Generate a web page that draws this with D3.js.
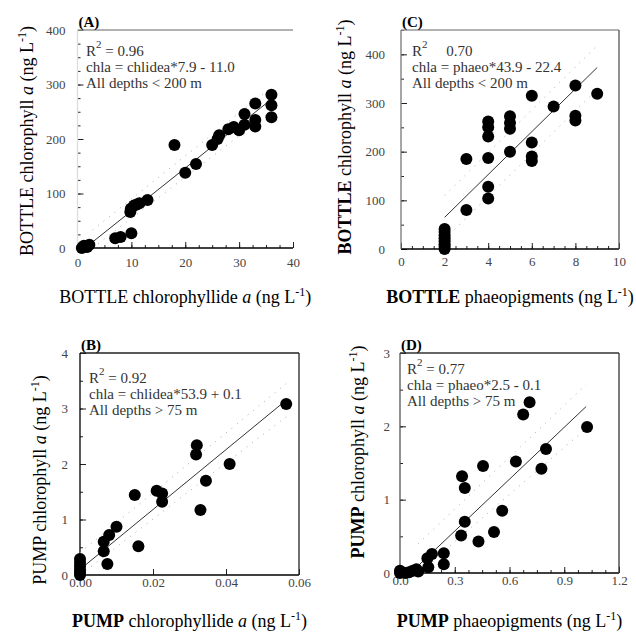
<!DOCTYPE html>
<html>
<head>
<meta charset="utf-8">
<script src="https://cdn.jsdelivr.net/npm/d3@7"></script>
<style>
  body { margin: 0; background: #fff; }
  svg text { font-family: "Liberation Serif", "DejaVu Serif", serif; }
</style>
</head>
<body>
<div id="chart"></div>
<script>
'use strict';

// (A) bottle chlorophyllide vs chlorophyll
var bottleChlideX = [0.8, 1.2, 1.8, 2.2, 7, 8, 10, 9.8, 9.9, 10.5, 11, 11.5, 13, 18, 20, 22, 25, 26, 26.3, 28, 29, 30, 31, 31, 33, 33, 33, 36, 36, 36];
var bottleChlaA   = [0, 4, 2, 6, 18, 20, 27, 66, 72, 78, 80, 82, 88, 189, 138, 154, 189, 200, 207, 218, 222, 216, 226, 246, 265, 235, 223, 281, 262, 240];

// (C) bottle phaeopigments vs chlorophyll
var bottlePhaeoX = [2, 2, 2, 2, 2, 2, 2, 2, 3, 3, 4, 4, 4, 4, 4, 4, 5, 5, 5, 5, 6, 6, 6, 6, 7, 8, 8, 8, 9];
var bottleChlaC  = [0, 5, 10, 16, 22, 28, 35, 41, 185, 80, 262, 250, 231, 187, 128, 104, 273, 259, 247, 200, 315, 219, 190, 181, 293, 336, 274, 264, 319];

// (B) pump chlorophyllide vs chlorophyll
var pumpChlideX = [0, 0, 0, 0, 0, 0, 0.0065, 0.0065, 0.008, 0.0075, 0.010, 0.015, 0.016, 0.021, 0.0225, 0.0225, 0.0318, 0.032, 0.0345, 0.033, 0.041, 0.0565];
var pumpChlaB   = [0, 0.05, 0.1, 0.16, 0.22, 0.29, 0.6, 0.43, 0.72, 0.2, 0.87, 1.44, 0.52, 1.52, 1.47, 1.32, 2.17, 2.34, 1.7, 1.17, 2.0, 3.08];

// (D) pump phaeopigments vs chlorophyll
var pumpPhaeoX = [0, 0, 0.03, 0.05, 0.07, 0.09, 0.1, 0.155, 0.15, 0.175, 0.24, 0.24, 0.34, 0.355, 0.355, 0.335, 0.43, 0.455, 0.515, 0.56, 0.635, 0.675, 0.71, 0.775, 0.8, 1.025];
var pumpChlaD  = [0.03, 0, 0, 0.01, 0.03, 0.05, 0.02, 0.08, 0.2, 0.26, 0.27, 0.12, 1.32, 1.16, 0.70, 0.51, 0.43, 1.46, 0.56, 0.85, 1.52, 2.16, 2.33, 1.42, 1.69, 1.99];

// regression lines [x0, y0, x1, y1] and half width of dotted band
var fitA = [2.8, 11, 36, 273], bandA = 22;
var fitC = [2, 65, 9, 373], bandC = 45;
var fitB = [0, 0.1, 0.0565, 3.15], bandB = 0.3;
var fitD = [0.1, 0.1, 1.02, 2.27], bandD = 0.3;

var notesA = ["= 0.96", "chla = chlidea*7.9 - 11.0", "All depths < 200 m"];
var notesC = ["\u00a0\u00a0\u00a0\u00a00.70", "chla = phaeo*43.9 - 22.4", "All depths < 200 m"];
var notesB = ["= 0.92", "chla = chlidea*53.9 + 0.1", "All depths > 75 m"];
var notesD = ["= 0.77", "chla = phaeo*2.5 - 0.1", "All depths > 75 m"];

var svg = d3.select("#chart").append("svg")
    .attr("width", 636)
    .attr("height", 638);

var panels = [
    { tag: "(A)", xs: bottleChlideX, ys: bottleChlaA, fit: fitA, band: bandA, notes: notesA,
      px: [77.5, 293], py: [248, 30], xd: [0, 40], yd: [0, 400],
      xt: d3.range(0, 41, 10), xm: d3.range(0, 40.1, 2.5), yt: d3.range(0, 401, 100), ym: d3.range(0, 400.1, 25),
      xf: d3.format("d"), yf: d3.format("d"), xpad: 10, ypad: 12,
      frame: { top: "#999", bottom: "#000", left: "#ddd", right: null },
      noteX: 86, noteY: 56,
      xTitle: ["BOTTLE", " chlorophyllide ", "a"], xBold: false, xTitleY: 297,
      yTitle: ["BOTTLE", " chlorophyll ", "a"], yBold: false, yTitleX: 27, yTitleY: 141 },
    { tag: "(C)", xs: bottlePhaeoX, ys: bottleChlaC, fit: fitC, band: bandC, notes: notesC,
      px: [401, 619], py: [249, 30], xd: [0, 10], yd: [0, 450],
      xt: d3.range(0, 11, 2), xm: d3.range(0, 10.1, 0.5), yt: d3.range(0, 401, 100), ym: d3.range(0, 450.1, 50),
      xf: d3.format("d"), yf: d3.format("d"), xpad: 8, ypad: 16,
      frame: { top: "#999", bottom: "#000", left: "#777", right: "#555" },
      noteX: 412, noteY: 56,
      xTitle: ["BOTTLE", " phaeopigments ", ""], xBold: true, xTitleY: 297,
      yTitle: ["BOTTLE", " chlorophyll ", "a"], yBold: true, yTitleX: 345, yTitleY: 137 },
    { tag: "(B)", xs: pumpChlideX, ys: pumpChlaB, fit: fitB, band: bandB, notes: notesB,
      px: [80, 299], py: [575, 353], xd: [0, 0.06], yd: [0, 4],
      xt: [0, 0.02, 0.04, 0.06], xm: [], yt: d3.range(0, 4.1, 1), ym: d3.range(0, 4.01, 0.5),
      xf: d3.format(".2f"), yf: d3.format("d"), xpad: 3, ypad: 12,
      frame: { top: "#222", bottom: "#000", left: "#000", right: "#222" },
      noteX: 89, noteY: 383,
      xTitle: ["PUMP", " chlorophyllide ", "a"], xBold: true, xTitleY: 621,
      yTitle: ["PUMP", " chlorophyll ", "a"], yBold: false, yTitleX: 40, yTitleY: 480 },
    { tag: "(D)", xs: pumpPhaeoX, ys: pumpChlaD, fit: fitD, band: bandD, notes: notesD,
      px: [400, 619], py: [573, 353], xd: [0, 1.2], yd: [0, 3],
      xt: [0, 0.3, 0.6, 0.9, 1.2], xm: d3.range(0, 1.21, 0.075), yt: d3.range(0, 3.1, 1), ym: d3.range(0, 3.01, 0.5),
      xf: d3.format(".1f"), yf: d3.format("d"), xpad: 3, ypad: 10,
      frame: { top: "#333", bottom: "#000", left: "#555", right: "#333" },
      noteX: 407, noteY: 374,
      xTitle: ["PUMP", " phaeopigments ", ""], xBold: true, xTitleY: 621,
      yTitle: ["PUMP", " chlorophyll ", "a"], yBold: true, yTitleX: 358, yTitleY: 452 }
];

panels.forEach(drawPanel);

function drawPanel(p) {
    var x = d3.scaleLinear().domain(p.xd).range(p.px);
    var y = d3.scaleLinear().domain(p.yd).range(p.py);
    var g = svg.append("g");

    // minor ticks
    g.append("g")
        .attr("transform", "translate(0," + p.py[0] + ")")
        .call(d3.axisBottom(x).tickValues(p.xm).tickSize(-3).tickSizeOuter(0).tickFormat(""))
        .call(a => a.select(".domain").remove());
    g.append("g")
        .attr("transform", "translate(" + p.px[0] + ",0)")
        .call(d3.axisLeft(y).tickValues(p.ym).tickSize(-3).tickSizeOuter(0).tickFormat(""))
        .call(a => a.select(".domain").remove());

    // major ticks
    var xa = g.append("g")
        .attr("transform", "translate(0," + p.py[0] + ")")
        .call(d3.axisBottom(x).tickValues(p.xt).tickSize(-6).tickSizeOuter(0).tickPadding(p.xpad).tickFormat(p.xf));
    xa.select(".domain").remove();
    var ya = g.append("g")
        .attr("transform", "translate(" + p.px[0] + ",0)")
        .call(d3.axisLeft(y).tickValues(p.yt).tickSize(-6).tickSizeOuter(0).tickPadding(p.ypad).tickFormat(p.yf));
    ya.select(".domain").remove();
    xa.attr("font-family", "Liberation Serif");
    ya.attr("font-family", "Liberation Serif");
    g.selectAll(".tick text")
        .style("font-family", "'Liberation Serif', serif")
        .style("font-size", "13px")
        .attr("fill", "#444");
    g.selectAll(".tick line").attr("stroke", "#222");

    // frame
    var f = p.frame;
    var sides = [
        [f.top, p.px[0], p.py[1], p.px[1], p.py[1]],
        [f.bottom, p.px[0], p.py[0], p.px[1], p.py[0]],
        [f.left, p.px[0], p.py[0], p.px[0], p.py[1]],
        [f.right, p.px[1], p.py[0], p.px[1], p.py[1]]
    ];
    sides.forEach(function(s) {
        if (!s[0]) return;
        g.append("line")
            .attr("x1", s[1]).attr("y1", s[2]).attr("x2", s[3]).attr("y2", s[4])
            .attr("stroke", s[0]).attr("stroke-width", 1.3);
    });

    // dotted band and fit line
    [-p.band, p.band].forEach(function(o) {
        g.append("line")
            .attr("x1", x(p.fit[0])).attr("y1", y(Math.max(p.fit[1] + o, p.yd[0])))
            .attr("x2", x(p.fit[2])).attr("y2", y(p.fit[3] + o))
            .attr("stroke", "#aaa").attr("stroke-width", 1)
            .attr("stroke-dasharray", "1,6");
    });
    g.append("line")
        .attr("x1", x(p.fit[0])).attr("y1", y(p.fit[1]))
        .attr("x2", x(p.fit[2])).attr("y2", y(p.fit[3]))
        .attr("stroke", "#333").attr("stroke-width", 1);

    // points
    g.selectAll("circle")
        .data(p.xs.map((v, i) => [v, p.ys[i]]))
        .join("circle")
        .attr("cx", d => x(d[0]))
        .attr("cy", d => y(d[1]))
        .attr("r", 6)
        .attr("fill", "#000");

    // panel tag
    g.append("text")
        .attr("x", p.px[0] + 1).attr("y", p.py[1] - 3)
        .attr("font-size", 15).attr("font-weight", "bold")
        .text(p.tag);

    // notes
    var r2 = g.append("text").attr("x", p.noteX).attr("y", p.noteY).attr("font-size", 15).attr("fill", "#333");
    r2.append("tspan").text("R");
    r2.append("tspan").attr("dy", -8).attr("font-size", 11).text("2");
    r2.append("tspan").attr("dy", 8).text("\u00a0" + p.notes[0]);
    p.notes.slice(1).forEach(function(t, i) {
        g.append("text")
            .attr("x", p.noteX).attr("y", p.noteY + 16 * (i + 1))
            .attr("font-size", 15).attr("fill", "#333")
            .text(t);
    });

    // axis titles
    var xt = g.append("text")
        .attr("x", (p.px[0] + p.px[1]) / 2).attr("y", p.xTitleY + 6)
        .attr("text-anchor", "middle").attr("font-size", 18);
    titleSpans(xt, p.xTitle, p.xBold);

    var yt = g.append("text")
        .attr("transform", "translate(" + (p.yTitleX + 6) + "," + p.yTitleY + ") rotate(-90)")
        .attr("text-anchor", "middle").attr("font-size", 18);
    titleSpans(yt, p.yTitle, p.yBold);
}

function titleSpans(t, parts, bold) {
    t.append("tspan").attr("font-weight", bold ? "bold" : "normal").text(parts[0]);
    t.append("tspan").text(parts[1]);
    if (parts[2]) t.append("tspan").attr("font-style", "italic").text(parts[2] + " ");
    t.append("tspan").text("(ng L");
    t.append("tspan").attr("dy", -7).attr("font-size", 12).text("-1");
    t.append("tspan").attr("dy", 7).text(")");
}
</script>
</body>
</html>
